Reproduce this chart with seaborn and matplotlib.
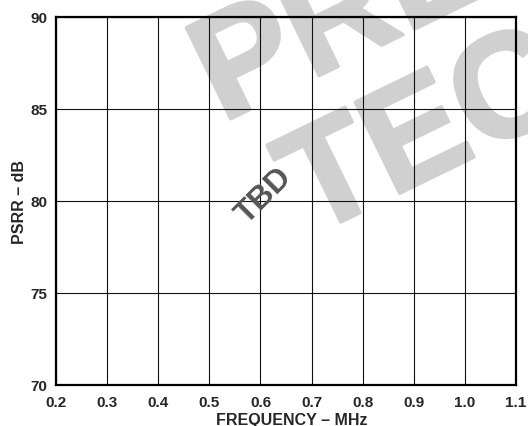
import matplotlib
matplotlib.use("Agg")
import matplotlib.pyplot as plt
import matplotlib.patheffects as pe
import seaborn as sns
import pandas as pd

# axis ranges and tick values (no curve yet: TBD)
freq_ticks = [0.2, 0.3, 0.4, 0.5, 0.6, 0.7, 0.8, 0.9, 1.0, 1.1]
psrr_ticks = [70, 75, 80, 85, 90]
freq_labels = ['0.2', '0.3', '0.4', '0.5', '0.6', '0.7', '0.8', '0.9', '1.0', '1.1']
psrr_labels = ['70', '75', '80', '85', '90']

sns.set_style("white")
plt.rcParams['font.family'] = ['Liberation Sans', 'DejaVu Sans']

fig = plt.figure(figsize=(5.28, 4.27), dpi=100)
ax = fig.add_axes([56 / 528, 1 - 386 / 427, 460 / 528, 368 / 427])
ax.patch.set_alpha(0)

# empty data frame so seaborn sets up the axes
df = pd.DataFrame({'freq': pd.Series([], dtype=float), 'psrr': pd.Series([], dtype=float)})
sns.lineplot(data=df, x='freq', y='psrr', ax=ax)

ax.set_xlim(freq_ticks[0], freq_ticks[-1])
ax.set_ylim(psrr_ticks[0], psrr_ticks[-1])
ax.set_xticks(freq_ticks)
ax.set_xticklabels(freq_labels, fontweight='bold', fontsize=11)
ax.set_yticks(psrr_ticks)
ax.set_yticklabels(psrr_labels, fontweight='bold', fontsize=11)
ax.tick_params(axis='x', length=0, pad=7)
ax.tick_params(axis='y', length=0, pad=6)
ax.grid(True, color='#111111', linewidth=0.8)
for s in ax.spines.values():
    s.set_linewidth(1.6)
    s.set_color('black')

ax.set_xlabel('FREQUENCY – MHz', fontweight='bold', fontsize=11.5)
ax.xaxis.set_label_coords((292 - 56) / 460, -0.074)
ax.set_ylabel('PSRR – dB', fontweight='bold', fontsize=11.5, labelpad=3)

ax.text(0.452, 0.516, 'TBD', transform=ax.transAxes, rotation=45,
        ha='center', va='center', fontsize=23, fontweight='bold', color='#555555')

# watermark behind the grid (narrow face, tall letters, thickened strokes)
wm_col = '#d0d0d0'
wm = dict(rotation=26, rotation_mode='anchor', ha='left', va='baseline', fontsize=106,
          fontweight='bold', color=wm_col, zorder=-1,
          family=['Liberation Sans Narrow', 'Liberation Sans'],
          path_effects=[pe.withStroke(linewidth=2.5, foreground=wm_col)])
fig.text(222 / 528, 1 - 124 / 427, 'PRELIMINARY', **wm)
fig.text(310 / 528, 1 - 238 / 427, 'TECHNICAL', **wm)

plt.savefig('out.png', dpi=100)
